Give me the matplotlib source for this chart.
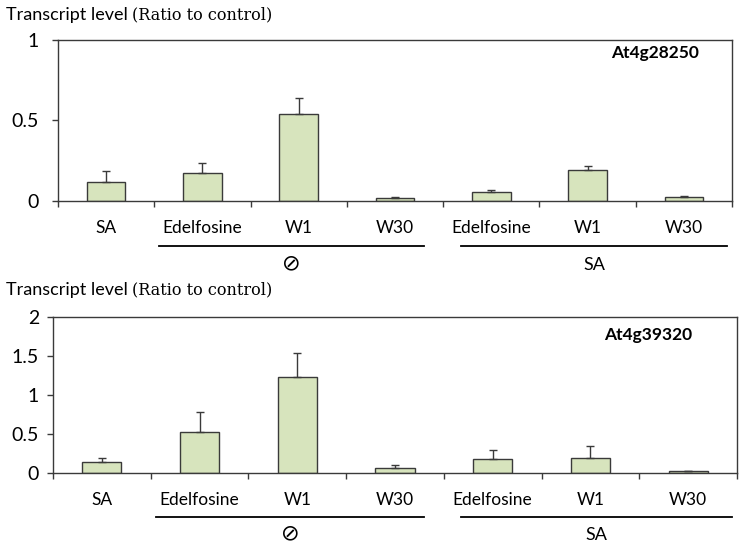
import numpy as np
import matplotlib
matplotlib.use("Agg")
import matplotlib.pyplot as plt
import matplotlib.transforms as mtransforms

# ---------------- data ----------------
categories = ["SA", "Edelfosine", "W1", "W30", "Edelfosine", "W1", "W30"]

gene_top = "At4g28250"
values_top = [0.12, 0.175, 0.54, 0.018, 0.055, 0.193, 0.024]
errors_top = [0.066, 0.06, 0.10, 0.006, 0.012, 0.027, 0.004]
yticks_top = [0, 0.5, 1]
yticklabels_top = ["0", "0.5", "1"]

gene_bottom = "At4g39320"
values_bottom = [0.14, 0.53, 1.23, 0.064, 0.18, 0.19, 0.025]
errors_bottom = [0.05, 0.25, 0.31, 0.045, 0.12, 0.16, 0.006]
yticks_bottom = [0, 0.5, 1, 1.5, 2]
yticklabels_bottom = ["0", "0.5", "1", "1.5", "2"]

group_names = ["\u2298", "SA"]
group_spans = [(0.55, 3.3), (3.68, 6.45)]

sans = ["Lato", "DejaVu Sans"]
serif = ["DejaVu Serif"]
bar_color = "#d7e4bd"
edge_color = "#3a3a3a"

fig = plt.figure(figsize=(7.41, 5.45), dpi=100)
ax_top = fig.add_axes([0.0783, 0.6312, 0.9096, 0.2954])
ax_bot = fig.add_axes([0.0715, 0.1321, 0.9231, 0.2862])


def draw_panel(ax, values, errors, yticks, yticklabels, gene, gene_pos, ypad):
    x = np.arange(len(categories))
    ax.bar(x, values, width=0.4, color=bar_color, edgecolor=edge_color,
           linewidth=1.0, zorder=2)
    ax.errorbar(x, values, yerr=[np.zeros(len(errors)), errors], fmt="none",
                ecolor=edge_color, elinewidth=1.0, capsize=3, capthick=1.0,
                zorder=3)
    ax.set_xlim(-0.5, len(categories) - 0.5)
    ax.set_ylim(yticks[0], yticks[-1])
    ax.set_yticks(yticks)
    ax.set_yticklabels(yticklabels, fontfamily=sans, fontsize=14)
    # boundaries as major ticks, labels on minor ticks
    ax.set_xticks(np.arange(-0.5, len(categories), 1.0))
    ax.set_xticklabels([])
    ax.set_xticks(x, minor=True)
    ax.set_xticklabels(categories, minor=True, fontfamily=sans, fontsize=12.5)
    ax.tick_params(axis="x", which="major", direction="out", length=4,
                   width=1.0, color=edge_color)
    ax.tick_params(axis="x", which="minor", length=0, pad=14)
    ax.tick_params(axis="y", direction="out", length=4, width=1.0,
                   color=edge_color, pad=ypad)
    for sp in ax.spines.values():
        sp.set_color(edge_color)
        sp.set_linewidth(1.0)
    ax.text(gene_pos[0], gene_pos[1], gene, transform=ax.transAxes,
            ha="center", va="center", fontfamily=sans, fontweight="bold",
            fontsize=12.5)

    trans = mtransforms.blended_transform_factory(ax.transData, ax.transAxes)
    for name, (x0, x1) in zip(group_names, group_spans):
        ax.plot([x0, x1], [-0.28, -0.28], color="black", linewidth=1.3,
                transform=trans, clip_on=False)
        if name == "\u2298":
            ax.text((x0 + x1) / 2, -0.39, name, transform=trans, ha="center",
                    va="center", fontfamily=["DejaVu Sans"], fontsize=16)
        else:
            ax.text((x0 + x1) / 2, -0.40, name, transform=trans, ha="center",
                    va="center", fontfamily=sans, fontsize=13)


draw_panel(ax_top, values_top, errors_top, yticks_top, yticklabels_top,
           gene_top, (0.886, 0.919), 10)
draw_panel(ax_bot, values_bottom, errors_bottom, yticks_bottom,
           yticklabels_bottom, gene_bottom, (0.87, 0.885), 6)

# y axis titles: sans part followed by serif part
fig.canvas.draw()
renderer = fig.canvas.get_renderer()
for ypix in [15, 290]:
    yf = 1 - ypix / 545
    t1 = fig.text(6 / 741, yf, "Transcript level ", ha="left", va="center",
                  fontfamily=sans, fontsize=13)
    bb = t1.get_window_extent(renderer)
    fig.text(bb.x1 / fig.bbox.width, yf, "(Ratio to control)", ha="left",
             va="center", fontfamily=serif, fontsize=11.5)

fig.savefig("out.png", dpi=100)
